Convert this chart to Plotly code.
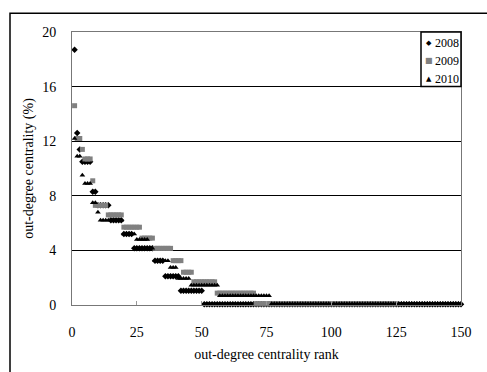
import numpy as np
import plotly.graph_objects as go

# Step values (value, run length along the rank axis)
vals_2008 = [18.7, 12.6, 11.4, 10.5, 8.3, 7.3, 6.2, 5.2, 4.15, 3.25, 2.1, 1.05, 0.06]
runs_2008 = [1, 1, 1, 4, 2, 5, 5, 4, 8, 4, 6, 9, 100]

vals_2009 = [14.6, 12.2, 11.4, 10.7, 9.1, 7.3, 6.6, 5.7, 4.9, 4.15, 3.25, 2.4, 1.7, 0.87, 0.09]
runs_2009 = [1, 2, 1, 3, 1, 5, 6, 7, 5, 7, 4, 4, 9, 15, 55]

vals_2010 = [12.2, 10.9, 9.5, 8.9, 7.5, 6.8, 6.2, 5.2, 4.8, 4.15, 3.25, 2.75, 1.95, 1.45, 0.68, 0.1]
runs_2010 = [1, 2, 1, 3, 2, 1, 9, 5, 5, 2, 6, 3, 5, 11, 20, 74]

x_ticks = [0, 25, 50, 75, 100, 125, 150]
y_ticks = [0, 4, 8, 12, 16, 20]
series_names = ["2008", "2009", "2010"]

def expand(vals, runs):
    y = np.repeat(vals, runs)
    x = np.arange(1, len(y) + 1)
    return x, y

FONT = "Liberation Serif, Times New Roman, serif"

fig = go.Figure()
styles = [
    dict(symbol="diamond", size=5, color="black"),
    dict(symbol="square", size=5, color="#808080"),
    dict(symbol="triangle-up", size=5, color="black"),
]
for name, (v, r), st in zip(series_names,
                            [(vals_2008, runs_2008), (vals_2009, runs_2009), (vals_2010, runs_2010)],
                            styles):
    x, y = expand(v, r)
    fig.add_trace(go.Scatter(x=x, y=y, mode="markers", name=name,
                             marker=dict(symbol=st["symbol"], size=st["size"], color=st["color"],
                                         line=dict(width=0)),
                             cliponaxis=False, showlegend=False))

L, R, T, B = 72, 26, 32, 65
W, H = 487, 372
pw, ph = W - L - R, H - T - B

def px_x(p):
    return (p - L) / pw

def px_y(p):
    return (H - B - p) / ph

shapes = [
    # outer frame
    dict(type="rect", xref="paper", yref="paper",
         x0=px_x(10), x1=px_x(495), y0=px_y(380), y1=px_y(13),
         line=dict(color="black", width=1.5), layer="below"),
    # legend box
    dict(type="rect", xref="paper", yref="paper",
         x0=px_x(421), x1=1.0, y0=px_y(87), y1=1.0,
         line=dict(color="black", width=1.5), fillcolor="white", layer="above"),
]

annotations = []
leg_syms = ["◆", "■", "▲"]
leg_cols = ["black", "#808080", "black"]
leg_sizes = [7, 8, 7]
for i, (name, s, c, fs) in enumerate(zip(series_names, leg_syms, leg_cols, leg_sizes)):
    yy = px_y(43 + 18 * i)
    annotations.append(dict(xref="paper", yref="paper", x=px_x(429), y=yy, text=s,
                            showarrow=False, xanchor="center", yanchor="middle",
                            font=dict(size=fs, color=c, family="DejaVu Sans")))
    annotations.append(dict(xref="paper", yref="paper", x=px_x(433), y=yy, text=name,
                            showarrow=False, xanchor="left", yanchor="middle",
                            font=dict(size=12, color="black", family=FONT)))

fig.update_layout(
    width=W, height=H,
    margin=dict(l=L, r=R, t=T, b=B),
    paper_bgcolor="white", plot_bgcolor="white",
    font=dict(family=FONT, size=14, color="black"),
    shapes=shapes, annotations=annotations,
    showlegend=False,
)
fig.update_xaxes(range=[0, 150], tickvals=x_ticks, showgrid=False, zeroline=False,
                 showline=True, linecolor="#777", linewidth=1, mirror=True,
                 ticks="inside", ticklen=4, tickcolor="#999",
                 ticklabelstandoff=14, tickfont=dict(size=14),
                 title=dict(text="out-degree centrality rank", standoff=10,
                            font=dict(size=14, family=FONT)))
fig.update_yaxes(range=[0, 20], tickvals=y_ticks, showgrid=True, gridcolor="black", gridwidth=1,
                 zeroline=False, showline=True, linecolor="#777", linewidth=1, mirror=True,
                 ticks="", ticklabelstandoff=12, tickfont=dict(size=14),
                 title=dict(text="out-degree centrality (%)", standoff=5,
                            font=dict(size=14, family=FONT)))

fig.write_html("out.html")
